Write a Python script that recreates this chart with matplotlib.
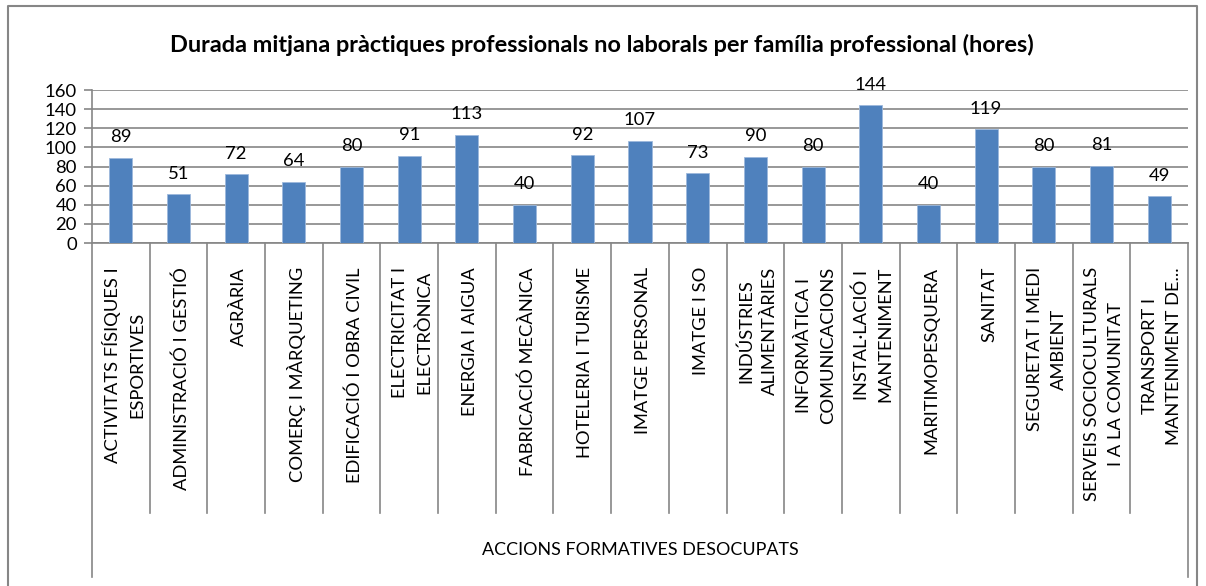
import numpy as np
import matplotlib
matplotlib.use('Agg')
import matplotlib.pyplot as plt
from matplotlib.lines import Line2D

# data
categories = [
    'ACTIVITATS FÍSIQUES I\nESPORTIVES',
    'ADMINISTRACIÓ I GESTIÓ',
    'AGRÀRIA',
    'COMERÇ I MÀRQUETING',
    'EDIFICACIÓ I OBRA CIVIL',
    'ELECTRICITAT I\nELECTRÒNICA',
    'ENERGIA I AIGUA',
    'FABRICACIÓ MECÀNICA',
    'HOTELERIA I TURISME',
    'IMATGE PERSONAL',
    'IMATGE I SO',
    'INDÚSTRIES\nALIMENTÀRIES',
    'INFORMÀTICA I\nCOMUNICACIONS',
    'INSTAL·LACIÓ I\nMANTENIMENT',
    'MARITIMOPESQUERA',
    'SANITAT',
    'SEGURETAT I MEDI\nAMBIENT',
    'SERVEIS SOCIOCULTURALS\nI A LA COMUNITAT',
    'TRANSPORT I\nMANTENIMENT DE...',
]
hours = [89, 51, 72, 64, 80, 91, 113, 40, 92, 107, 73, 90, 80, 144, 40, 119, 80, 81, 49]
group_label = 'ACCIONS FORMATIVES DESOCUPATS'
title = 'Durada mitjana pràctiques professionals no laborals per família professional (hores)'
y_ticks = [0, 20, 40, 60, 80, 100, 120, 140, 160]

plt.rcParams['font.family'] = ['Lato', 'DejaVu Sans']

W, H = 1206, 586
fig = plt.figure(figsize=(W / 100, H / 100), dpi=100)

grey = '#868686'
blue = '#4F81BD'

# plot area in pixels: x 92..1188, y 90..243
left, right, top, bottom = 92, 1188, 90, 243
ax = fig.add_axes([left / W, 1 - bottom / H, (right - left) / W, (bottom - top) / H])

x = np.arange(len(categories))
bars = ax.bar(x, hours, width=0.4, color=blue, edgecolor='#9DB9DC', linewidth=0.6, zorder=3)
ax.set_xlim(-0.5, len(categories) - 0.5)
ax.set_ylim(y_ticks[0], y_ticks[-1])
ax.set_yticks(y_ticks)
ax.tick_params(axis='y', labelsize=13.3, length=6, width=1.2, color=grey, pad=5)
ax.set_xticks([])
ax.yaxis.grid(True, color=grey, linewidth=1.2)
ax.set_axisbelow(True)
for side in ['top', 'right']:
    ax.spines[side].set_visible(False)
for side in ['left', 'bottom']:
    ax.spines[side].set_color(grey)
    ax.spines[side].set_linewidth(1.2)

for rect, v in zip(bars, hours):
    ax.annotate(str(v), (rect.get_x() + rect.get_width() / 2, v),
                xytext=(0, 9), textcoords='offset points',
                ha='center', va='bottom', fontsize=13.3)

# category labels and separators below the axis
px = 1.0 / (bottom - top)  # one pixel in axes units
trans = ax.get_xaxis_transform()
for i, name in enumerate(categories):
    ax.text(i + 0.05, -24 * px, name, transform=trans, rotation=90,
            ha='center', va='top', multialignment='center',
            fontsize=13.2, linespacing=1.6)
for b in np.arange(len(categories) + 1) - 0.5:
    end = 577 if b in (-0.5, len(categories) - 0.5) else 513
    ax.add_line(Line2D([b, b], [0, -(end - bottom) * px], transform=trans,
                       color=grey, linewidth=1.2, clip_on=False))
ax.text((len(categories) - 1) / 2, -(550 - bottom) * px, group_label,
        transform=trans, ha='center', va='center', fontsize=12.9)

fig.text(602 / W, 1 - 45 / H, title, ha='center', va='center',
         fontsize=16.9, fontweight='bold')

# outer chart frame
fx = [8 / W, 8 / W, 1197 / W, 1197 / W]
fy = [-0.01, 1 - 6 / H, 1 - 6 / H, -0.01]
fig.add_artist(Line2D(fx, fy, transform=fig.transFigure, color=grey, linewidth=1.5))

fig.savefig('out.png', dpi=100)
